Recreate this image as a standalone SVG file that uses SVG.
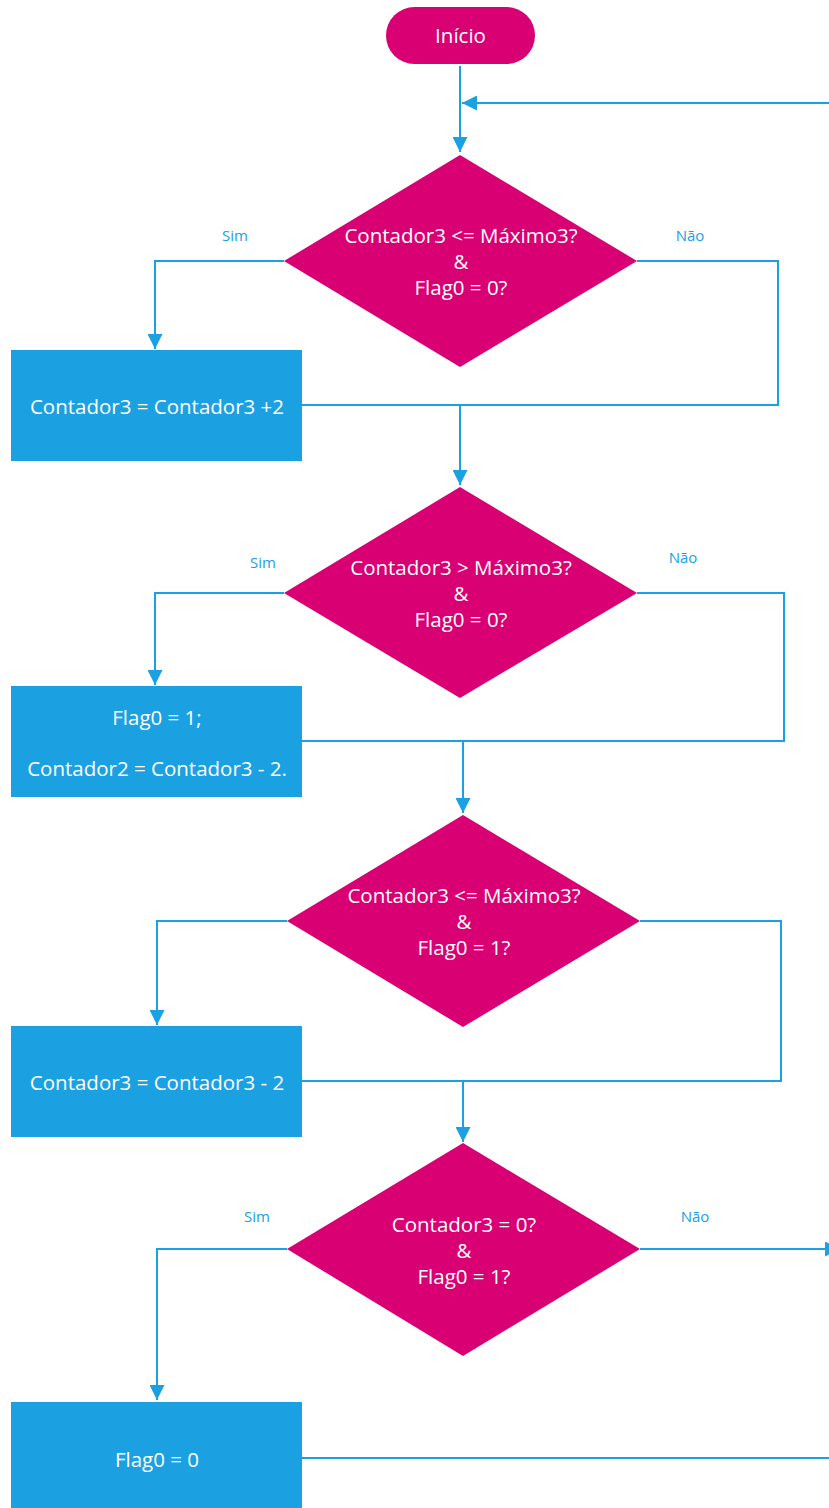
<svg xmlns="http://www.w3.org/2000/svg" width="829" height="1508" viewBox="0 0 829 1508">
  <defs>
    <marker id="arrowL" viewBox="0 0 10 10" refX="10" refY="5" markerWidth="15" markerHeight="15" markerUnits="userSpaceOnUse" orient="auto">
      <path d="M0,0 L10,5 L0,10 z" fill="#1BA1E2"/>
    </marker>
  </defs>
  <style>
    .term, .dec { fill: #D80073; }
    .proc { fill: #1BA1E2; }
    .txt { font-family: "Open Sans", "Noto Sans", sans-serif; font-size: 20.5px; fill: #FFFFFF; text-anchor: middle; dominant-baseline: central; }
    .lbl { font-family: "Open Sans", "Noto Sans", sans-serif; font-size: 15px; fill: #1BA1E2; text-anchor: middle; dominant-baseline: central; }
    .edge { fill: none; stroke: #1BA1E2; stroke-width: 2; }
  </style>
  <rect width="829" height="1508" fill="#FFFFFF"/>

  <g id="connectors">
    <path class="edge" d="M460,66 V152" marker-end="url(#arrowL)"/>
    <path class="edge" d="M829,103 H462" marker-end="url(#arrowL)"/>

    <path class="edge" d="M284,261 H155 V349" marker-end="url(#arrowL)"/>
    <path class="edge" d="M637,261 H778 V405 H302"/>
    <path class="edge" d="M460,405 V485" marker-end="url(#arrowL)"/>

    <path class="edge" d="M284,593 H155 V685" marker-end="url(#arrowL)"/>
    <path class="edge" d="M637,593 H784 V741 H302"/>
    <path class="edge" d="M463,741 V813" marker-end="url(#arrowL)"/>

    <path class="edge" d="M287,921 H157 V1025" marker-end="url(#arrowL)"/>
    <path class="edge" d="M640,921 H781 V1081 H302"/>
    <path class="edge" d="M463,1081 V1142" marker-end="url(#arrowL)"/>

    <path class="edge" d="M287,1249 H157 V1400" marker-end="url(#arrowL)"/>
    <path class="edge" d="M640,1249 H840" marker-end="url(#arrowL)"/>
    <path class="edge" d="M302,1458 H829"/>

    <text class="lbl" x="235" y="235">Sim</text>
    <text class="lbl" x="690" y="235">Não</text>
    <text class="lbl" x="263" y="562">Sim</text>
    <text class="lbl" x="683" y="557">Não</text>
    <text class="lbl" x="257" y="1216">Sim</text>
    <text class="lbl" x="695" y="1216">Não</text>
  </g>

  <g id="inicio">
    <rect class="term" x="386" y="7" width="149" height="57" rx="28.5"/>
    <text class="txt" x="460.5" y="35">Início</text>
  </g>

  <g id="decisao1">
    <polygon class="dec" points="460,155 637,261 460,367 284,261"/>
    <text class="txt" x="461" y="235">Contador3 &lt;= Máximo3?</text>
    <text class="txt" x="461" y="261">&amp;</text>
    <text class="txt" x="461" y="287">Flag0 = 0?</text>
  </g>

  <g id="processo1">
    <rect class="proc" x="11" y="350" width="291" height="111"/>
    <text class="txt" x="157" y="406">Contador3 = Contador3 +2</text>
  </g>

  <g id="decisao2">
    <polygon class="dec" points="460,487 637,593 460,698 284,593"/>
    <text class="txt" x="461" y="567">Contador3 &gt; Máximo3?</text>
    <text class="txt" x="461" y="593">&amp;</text>
    <text class="txt" x="461" y="619">Flag0 = 0?</text>
  </g>

  <g id="processo2">
    <rect class="proc" x="11" y="686" width="291" height="111"/>
    <text class="txt" x="157" y="717">Flag0 = 1;</text>
    <text class="txt" x="157" y="768">Contador2 = Contador3 - 2.</text>
  </g>

  <g id="decisao3">
    <polygon class="dec" points="463,815 640,921 463,1027 287,921"/>
    <text class="txt" x="464" y="895">Contador3 &lt;= Máximo3?</text>
    <text class="txt" x="464" y="921">&amp;</text>
    <text class="txt" x="464" y="947">Flag0 = 1?</text>
  </g>

  <g id="processo3">
    <rect class="proc" x="11" y="1026" width="291" height="111"/>
    <text class="txt" x="157" y="1082">Contador3 = Contador3 - 2</text>
  </g>

  <g id="decisao4">
    <polygon class="dec" points="463,1143 640,1249 463,1356 287,1249"/>
    <text class="txt" x="464" y="1224">Contador3 = 0?</text>
    <text class="txt" x="464" y="1250">&amp;</text>
    <text class="txt" x="464" y="1276">Flag0 = 1?</text>
  </g>

  <g id="processo4">
    <rect class="proc" x="11" y="1402" width="291" height="106"/>
    <text class="txt" x="157" y="1459">Flag0 = 0</text>
  </g>
</svg>
